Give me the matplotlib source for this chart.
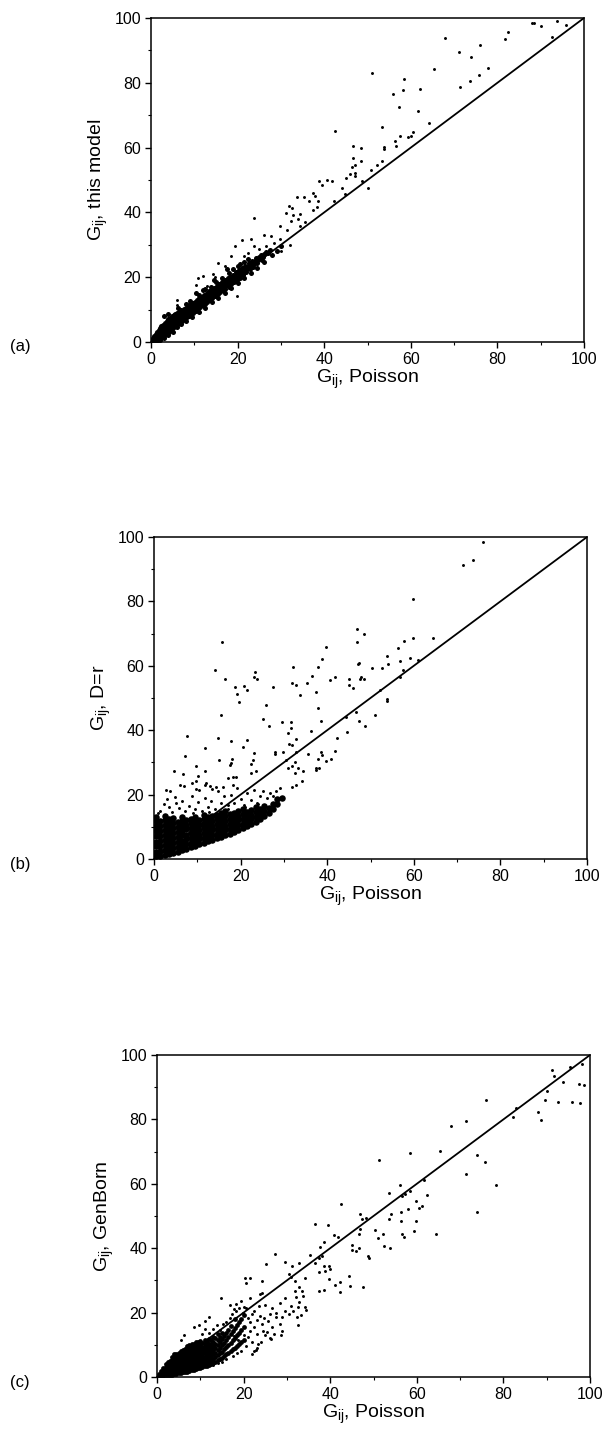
import numpy as np
import matplotlib
matplotlib.use("Agg")
import matplotlib.pyplot as plt

plt.rcParams['font.family'] = ['Liberation Sans', 'DejaVu Sans']
plt.rcParams['mathtext.default'] = 'regular'

# diagonal reference G_ij(model) = G_ij(Poisson)
diag = [0, 100]
ticks = [0, 20, 40, 60, 80, 100]

# ---------------- panel (a): this model vs Poisson ----------------
a_core = np.array([
    (0.3, 0.5), (0.5, 1.2), (0.6, 0.2), (0.8, 2.0), (0.9, 0.8), (1.0, 1.5), (1.1, 0.4), (1.2, 2.6),
    (1.3, 1.0), (1.4, 3.1), (1.5, 1.8), (1.6, 0.7), (1.7, 2.4), (1.8, 3.6), (1.9, 1.3), (2.0, 4.2),
    (2.0, 2.9), (2.1, 0.9), (2.2, 2.0), (2.3, 3.4), (2.4, 4.8), (2.5, 1.6), (2.6, 2.7), (2.7, 3.9),
    (2.8, 5.3), (2.9, 1.9), (3.0, 3.1), (3.1, 4.4), (3.2, 5.9), (3.3, 2.4), (3.4, 3.6), (3.5, 4.9),
    (3.6, 6.4), (3.7, 2.8), (3.8, 4.0), (3.9, 5.4), (4.0, 7.0), (4.1, 3.2), (4.2, 4.5), (4.3, 6.0),
    (4.4, 7.5), (4.5, 3.7), (4.6, 5.0), (4.7, 6.3), (4.8, 8.0), (4.9, 4.1), (5.0, 5.5), (5.1, 6.8),
    (5.2, 8.3), (5.3, 4.6), (5.4, 6.0), (5.5, 7.3), (5.6, 8.6), (5.7, 5.1), (5.8, 6.4), (5.9, 7.7),
    (6.0, 9.0), (6.2, 5.6), (6.3, 6.9), (6.4, 8.2), (6.5, 9.4), (6.7, 6.1), (6.8, 7.3), (6.9, 8.6),
    (7.0, 9.8), (7.2, 6.6), (7.3, 7.8), (7.4, 9.0), (7.6, 10.2), (7.7, 7.1), (7.8, 8.3), (7.9, 9.5),
    (8.1, 10.6), (8.2, 7.6), (8.3, 8.8), (8.4, 10.0), (8.6, 11.1), (8.7, 8.1), (8.8, 9.3), (8.9, 10.4),
    (9.1, 11.6), (9.2, 8.6), (9.3, 9.8), (9.4, 10.9), (9.6, 12.0), (9.7, 9.1), (9.8, 10.3), (10.0, 11.4),
    (10.1, 12.5), (10.3, 9.7), (10.4, 10.8), (10.5, 11.9), (10.7, 13.0), (10.8, 10.2), (10.9, 11.3),
    (11.1, 12.4), (11.2, 13.5), (11.4, 10.7), (11.5, 11.8), (11.6, 12.9), (11.8, 14.0), (11.9, 11.3),
    (12.0, 12.4), (12.2, 13.4), (12.3, 14.5), (12.5, 11.8), (12.6, 12.9), (12.7, 14.0), (12.9, 15.0),
    (13.0, 12.4), (13.2, 13.5), (13.3, 14.5), (13.5, 15.6), (13.6, 13.0), (13.7, 14.0), (13.9, 15.1),
    (14.0, 16.1), (14.2, 13.5), (14.3, 14.6), (14.5, 15.6), (14.6, 16.7), (14.8, 14.1), (14.9, 15.2),
    (15.0, 16.2), (15.2, 17.2), (15.4, 14.7), (15.5, 15.8), (15.6, 16.8), (15.8, 17.8), (16.0, 15.3),
    (16.1, 16.3), (16.3, 17.4), (16.4, 18.4), (16.6, 15.9), (16.7, 16.9), (16.9, 18.0), (17.0, 19.0),
    (17.2, 16.5), (17.4, 17.5), (17.5, 18.5), (17.7, 19.6), (17.9, 17.1), (18.0, 18.1), (18.2, 19.1),
    (18.3, 20.2), (18.5, 17.8), (18.7, 18.8), (18.8, 19.8), (19.0, 20.8), (19.2, 18.5), (19.3, 19.5),
    (19.5, 20.5), (19.7, 21.5), (19.9, 19.2), (20.0, 20.2), (20.2, 21.2), (20.4, 22.2), (20.6, 19.9),
    (20.7, 20.9), (20.9, 21.9), (21.1, 22.9), (21.3, 20.7), (21.5, 21.7), (21.6, 22.7), (21.8, 23.6),
    (22.0, 21.5), (22.2, 22.5), (22.4, 23.4), (22.6, 24.3), (22.8, 22.4), (23.0, 23.3), (23.2, 24.2),
    (23.4, 25.1), (23.6, 23.3), (23.8, 24.2), (24.0, 25.1), (24.3, 26.0), (24.5, 24.3), (24.8, 25.2),
    (25.0, 26.1), (25.3, 26.9), (25.6, 25.4), (25.9, 26.3), (26.2, 27.2), (26.5, 27.9), (27.0, 27.5),
    (27.5, 28.4),
    (3.0, 8.0), (4.0, 8.6), (6.2, 10.5), (8.0, 11.8), (9.0, 12.6), (11.0, 14.6), (12.0, 15.9),
    (13.8, 17.0), (15.0, 18.6), (16.5, 19.8), (18.0, 21.3), (19.0, 22.6), (20.5, 24.0), (21.5, 24.8),
    (22.5, 25.6), (17.5, 22.5), (14.6, 19.0), (10.5, 15.0), (12.5, 16.5), (20.0, 23.4),
    (2.0, 0.5), (3.0, 1.2), (4.0, 2.2), (5.0, 3.2), (6.0, 4.5), (7.0, 5.5), (8.0, 6.6), (9.5, 7.8),
    (11.0, 9.3), (12.5, 10.6), (14.0, 12.2), (15.5, 13.6), (17.0, 15.2), (18.5, 16.6), (20.0, 18.2),
    (21.5, 19.6), (23.0, 21.2), (24.5, 22.8), (26.0, 24.6), (28.0, 26.8), (29.0, 28.0), (30.0, 29.5),
])
a_sparse = np.array([
    (67.8, 93.8), (71.2, 89.5), (73.9, 87.9), (76.0, 91.8), (77.9, 84.5), (75.8, 82.3), (73.6, 80.5),
    (71.3, 78.7), (65.4, 84.4), (51.0, 83.0), (56.0, 76.5), (58.4, 81.2), (58.3, 77.7), (57.3, 72.5),
    (62.1, 78.1), (61.6, 71.3), (64.3, 67.6), (42.5, 65.0), (53.4, 66.5), (82.4, 95.7), (81.7, 93.5),
    (88.1, 98.5), (88.5, 98.4), (90.0, 97.6), (93.7, 99.2), (95.9, 97.9), (92.5, 94.1),
    (60.4, 64.7), (60.1, 63.5), (59.3, 63.3), (57.6, 63.7), (56.3, 61.9), (56.6, 60.4), (53.9, 60.3),
    (53.9, 59.7), (53.4, 56.0), (52.3, 54.7), (50.9, 53.2), (50.1, 47.6), (46.7, 60.4), (48.4, 59.9),
    (46.6, 56.8), (48.4, 55.8), (47.1, 54.5), (46.5, 53.9), (45.9, 52.0), (47.1, 52.2), (47.1, 51.1),
    (48.8, 49.6), (45.0, 50.6), (44.2, 47.5), (44.7, 45.8), (42.3, 43.4), (38.9, 49.6), (40.6, 50.1),
    (41.8, 49.6), (39.5, 48.6), (37.3, 46.0), (37.8, 45.0), (35.3, 44.7), (33.8, 44.8), (36.4, 43.4),
    (38.5, 43.4), (38.3, 41.7), (37.5, 40.8), (31.9, 41.9), (32.6, 41.4), (31.2, 39.8), (32.9, 39.3),
    (34.4, 39.6), (33.9, 38.0), (32.3, 37.2), (29.7, 35.7), (31.3, 34.7), (27.8, 32.6), (26.0, 32.9),
    (23.9, 38.3), (21.1, 31.4), (23.1, 31.8), (19.5, 29.7), (23.9, 29.5), (29.7, 31.8), (32.0, 30.0),
    (30.0, 28.0), (18.5, 26.4), (21.5, 26.6), (15.5, 24.4), (17.0, 23.4), (14.3, 21.1), (14.7, 20.1),
    (11.9, 20.5), (10.9, 19.8), (10.4, 17.7), (12.9, 17.4), (19.8, 14.1), (6.1, 13.1), (6.1, 11.5),
    (34.5, 35.8), (35.5, 37.0), (28.5, 30.5), (26.5, 29.5), (25.0, 28.8), (22.5, 27.5),
])

# ---------------- panel (b): D=r vs Poisson ----------------
b_core_cols = {
    0.5: [0.8, 2.3, 3.9, 5.4, 7.0, 8.6, 10.1, 11.7, 13.0],
    1.5: [1.0, 2.6, 4.1, 5.7, 7.2, 8.8, 10.4, 11.9],
    2.5: [1.3, 2.9, 4.4, 6.0, 7.5, 9.1, 10.6, 12.2, 13.5],
    3.5: [1.6, 3.1, 4.7, 6.2, 7.8, 9.3, 10.9, 12.4],
    4.5: [2.0, 3.5, 5.0, 6.6, 8.1, 9.7, 11.2, 12.6],
    5.5: [2.3, 3.8, 5.4, 6.9, 8.5, 10.0, 11.5],
    6.5: [2.7, 4.2, 5.7, 7.3, 8.8, 10.3, 11.8, 13.1],
    7.5: [3.1, 4.6, 6.1, 7.6, 9.2, 10.7, 12.1],
    8.5: [3.6, 5.1, 6.6, 8.1, 9.6, 11.1, 12.5],
    9.5: [4.1, 5.6, 7.1, 8.6, 10.1, 11.6, 13.0],
    10.5: [4.6, 6.1, 7.6, 9.1, 10.6, 12.1],
    11.5: [5.0, 6.5, 8.0, 9.5, 11.0, 12.5, 13.6],
    12.5: [5.5, 7.0, 8.5, 10.0, 11.5, 13.0],
    13.5: [5.9, 7.4, 8.9, 10.4, 11.9, 13.3],
    14.5: [6.4, 7.9, 9.4, 10.9, 12.4, 13.8],
    15.5: [6.9, 8.4, 9.9, 11.4, 12.9, 14.2],
    16.5: [7.4, 8.9, 10.4, 11.9, 13.4, 14.8],
    17.5: [7.9, 9.4, 10.9, 12.4, 13.9],
    18.5: [8.4, 9.9, 11.4, 12.9, 14.4],
    19.5: [9.0, 10.5, 12.0, 13.5, 15.0],
    20.5: [9.5, 11.0, 12.5, 14.0, 15.4],
    21.5: [10.2, 11.7, 13.2, 14.7],
    22.5: [10.8, 12.3, 13.8, 15.3],
    23.5: [11.6, 13.1, 14.6, 16.0],
    24.5: [12.4, 13.9, 15.4],
    25.5: [13.4, 14.9, 16.4],
    26.5: [14.4, 15.9],
    27.5: [15.6, 17.0],
    28.5: [17.0, 18.5],
    29.5: [19.0],
}
b_fringe = np.array([
    (1.5, 15.0), (2.2, 17.0), (3.0, 18.5), (3.5, 16.0), (4.2, 14.5), (5.0, 17.5), (5.8, 15.8),
    (6.5, 18.0), (7.2, 14.8), (8.0, 16.5), (8.8, 19.5), (9.5, 15.5), (10.2, 17.8), (11.0, 15.0),
    (11.8, 19.0), (12.5, 16.2), (13.2, 18.0), (14.0, 15.5), (14.8, 21.0), (15.5, 17.5), (16.2, 19.5),
    (17.0, 16.8), (17.8, 20.0), (18.5, 17.5), (19.2, 22.0), (20.0, 18.5), (20.8, 16.8), (21.5, 20.5),
    (22.3, 18.2), (23.0, 21.5), (23.8, 17.5), (24.5, 19.5), (25.2, 21.0), (26.0, 18.8), (26.8, 20.5),
    (27.5, 19.5), (28.2, 21.2), (29.0, 22.0), (3.8, 21.0), (7.0, 22.8), (10.5, 21.5), (12.0, 23.5),
    (13.5, 21.8), (16.0, 22.5), (18.2, 23.0), (2.5, 12.5), (1.0, 14.2), (4.8, 19.2), (9.0, 14.2),
    (12.8, 14.6), (17.2, 15.6), (21.0, 16.2), (24.0, 17.2),
])
b_sparse = np.array([
    (76.0, 98.5), (73.7, 93.0), (71.4, 91.3), (59.7, 80.9), (59.7, 68.7), (64.5, 68.5), (61.0, 61.8),
    (59.2, 62.5), (57.8, 67.8), (56.4, 65.4), (56.8, 61.6), (57.4, 58.7), (56.8, 56.4), (53.9, 63.0),
    (54.1, 60.7), (52.6, 59.2), (50.4, 59.4), (52.2, 52.5), (53.7, 49.6), (53.9, 49.2), (51.1, 44.7),
    (46.8, 71.3), (46.8, 67.3), (48.5, 69.8), (47.0, 60.7), (47.4, 60.9), (47.9, 56.6), (48.5, 55.8),
    (47.5, 55.9), (45.1, 55.9), (45.1, 54.0), (46.0, 53.0), (46.6, 45.7), (47.4, 43.0), (48.8, 41.4),
    (44.4, 44.0), (44.5, 39.4), (42.2, 37.7), (41.8, 33.4), (40.8, 31.1), (39.8, 30.3), (41.9, 56.4),
    (40.6, 55.6), (39.7, 65.7), (38.8, 62.0), (37.8, 59.7), (36.5, 56.9), (35.4, 54.8), (32.0, 59.7),
    (31.9, 54.8), (32.7, 54.0), (33.8, 50.9), (37.5, 51.8), (37.9, 46.8), (38.5, 43.0), (36.2, 39.6),
    (35.6, 32.6), (38.5, 33.1), (38.7, 32.3), (37.8, 31.0), (37.4, 28.2), (38.2, 28.4), (37.5, 27.5),
    (31.6, 42.4), (31.6, 40.6), (31.0, 39.0), (32.9, 37.4), (31.2, 35.7), (31.8, 35.3), (29.6, 42.7),
    (29.7, 33.1), (30.6, 30.8), (32.9, 33.1), (32.5, 30.0), (31.8, 28.9), (31.0, 28.4), (33.3, 28.4),
    (32.5, 26.7), (34.3, 27.2), (34.1, 24.1), (32.9, 23.0), (31.8, 22.5), (27.4, 53.3), (25.8, 47.8),
    (26.5, 41.3), (25.1, 43.4), (27.9, 33.1), (28.0, 32.6), (23.3, 58.2), (23.8, 55.8), (23.1, 56.4),
    (20.8, 53.7), (21.5, 52.5), (18.6, 53.5), (19.1, 51.2), (19.6, 48.7), (14.2, 58.7), (15.8, 67.5),
    (16.5, 55.8), (15.5, 44.7), (14.8, 37.7), (17.7, 36.7), (21.4, 37.0), (20.6, 34.7), (11.8, 34.4),
    (7.7, 38.3), (7.2, 32.0), (9.6, 28.9), (4.6, 27.2), (6.8, 26.4), (2.8, 21.3), (18.1, 31.1),
    (17.5, 29.2), (17.7, 29.8), (23.2, 32.9), (22.9, 30.8), (22.3, 29.5), (23.5, 27.2), (22.3, 26.7),
    (18.9, 25.4), (18.3, 25.4), (17.0, 25.1), (15.1, 30.8), (11.8, 27.2), (10.2, 25.8), (11.8, 23.0),
    (9.8, 24.1), (8.8, 23.6), (6.0, 23.0), (9.8, 21.7), (12.9, 22.7), (14.4, 22.5),
])
b_core = np.array([(x, y) for x, ys in b_core_cols.items() for y in ys])

# ---------------- panel (c): GenBorn vs Poisson ----------------
c_core_cols = {
    0.5: [0.3, 0.9],
    1.0: [0.3, 1.0, 1.8],
    1.5: [0.4, 1.2, 2.0, 2.8],
    2.0: [0.5, 1.4, 2.3, 3.2, 4.0],
    2.5: [0.5, 1.4, 2.3, 3.2, 4.1, 4.8],
    3.0: [0.6, 1.5, 2.4, 3.3, 4.2, 5.1],
    3.5: [0.7, 1.6, 2.5, 3.4, 4.3, 5.2, 6.1],
    4.0: [0.8, 1.7, 2.6, 3.5, 4.4, 5.3, 6.2, 7.0],
    4.5: [1.0, 1.9, 2.8, 3.7, 4.6, 5.5, 6.4, 7.1],
    5.0: [1.1, 2.0, 2.9, 3.8, 4.7, 5.6, 6.5, 7.4],
    5.5: [1.2, 2.1, 3.0, 3.9, 4.8, 5.7, 6.6, 7.5, 8.2],
    6.0: [1.4, 2.3, 3.2, 4.1, 5.0, 5.9, 6.8, 7.7, 8.5],
    6.5: [1.6, 2.5, 3.4, 4.3, 5.2, 6.1, 7.0, 7.9, 8.8],
    7.0: [1.7, 2.6, 3.5, 4.4, 5.3, 6.2, 7.1, 8.0, 8.9, 9.6],
    7.5: [1.9, 2.8, 3.7, 4.6, 5.5, 6.4, 7.3, 8.2, 9.1, 10.0],
    8.0: [2.1, 3.0, 3.9, 4.8, 5.7, 6.6, 7.5, 8.4, 9.3, 10.3],
    8.5: [2.3, 3.2, 4.1, 5.0, 5.9, 6.8, 7.7, 8.6, 9.5, 10.4],
    9.0: [2.5, 3.4, 4.3, 5.2, 6.1, 7.0, 7.9, 8.8, 9.7, 10.8],
    9.5: [2.7, 3.6, 4.5, 5.4, 6.3, 7.2, 8.1, 9.0, 9.9, 11.0],
    10.0: [2.9, 3.8, 4.7, 5.6, 6.5, 7.4, 8.3, 9.2, 10.1, 11.3],
    10.5: [3.1, 4.0, 4.9, 5.8, 6.7, 7.6, 8.5, 9.4, 10.5],
    11.0: [3.3, 4.3, 5.3, 6.3, 7.3, 8.3, 9.3, 10.3, 11.5],
    11.5: [3.5, 4.6, 5.6, 6.6, 7.6, 8.6, 9.6, 10.8],
    12.0: [3.8, 4.9, 6.0, 7.1, 8.2, 9.3, 10.4, 11.8],
    12.5: [4.1, 5.3, 6.5, 7.7, 8.9, 10.1, 11.5],
    13.0: [4.4, 5.7, 7.0, 8.3, 9.6, 11.0, 12.5],
    13.5: [4.8, 6.2, 7.6, 9.0, 10.4, 12.0],
    14.0: [5.2, 6.8, 8.4, 10.0, 11.6, 13.2],
    14.5: [5.6, 7.3, 9.1, 10.8, 12.5],
    15.0: [6.0, 7.9, 9.8, 11.7, 13.6],
    15.5: [6.5, 8.6, 10.6, 12.6],
    16.0: [7.0, 9.2, 11.4, 13.8],
    16.5: [7.6, 10.0, 12.3, 14.6],
    17.0: [8.0, 10.7, 13.3, 15.8],
    17.5: [8.6, 11.4, 14.2],
    18.0: [9.0, 12.2, 15.3, 17.9],
    18.5: [9.6, 13.0, 16.2],
    19.0: [10.2, 13.8, 17.2],
    19.5: [11.0, 14.6, 18.0],
    20.0: [11.5, 15.5, 19.2],
}
c_fringe = np.array([
    (10.5, 13.2), (11.2, 14.8), (12.0, 13.6), (13.0, 15.0), (13.8, 16.2), (14.5, 14.5), (15.2, 16.5),
    (16.0, 17.0), (16.8, 18.2), (17.3, 19.5), (18.3, 20.5), (19.0, 21.3), (19.8, 20.0), (20.5, 21.5),
    (21.0, 18.3), (21.5, 17.0), (22.0, 19.5), (22.5, 15.5), (23.0, 13.5), (23.2, 17.8), (23.8, 19.0),
    (24.2, 16.5), (24.8, 18.2), (25.5, 14.0), (26.0, 12.0), (27.0, 13.5), (20.5, 9.5), (21.0, 12.5),
    (22.0, 11.0), (23.0, 9.0), (17.5, 6.5), (18.5, 7.5), (19.5, 8.0), (16.0, 5.5), (15.0, 4.8),
    (14.0, 4.2), (13.0, 3.8), (22.5, 20.5), (23.5, 22.0), (25.0, 22.5), (26.5, 21.5), (27.5, 20.0),
    (28.5, 23.0), (29.5, 24.5), (21.5, 14.2), (20.0, 13.0), (18.8, 11.5), (17.8, 12.8), (22.8, 8.5),
])
c_sparse = np.array([
    (76.0, 86.0), (71.4, 79.6), (67.9, 78.0), (65.4, 70.1), (58.5, 69.6), (51.2, 67.3), (73.8, 68.9),
    (75.8, 66.8), (71.4, 63.1), (78.2, 59.5), (73.8, 51.2), (61.6, 61.3), (56.2, 59.6), (53.5, 57.1),
    (56.6, 56.2), (57.2, 56.7), (58.5, 57.7), (62.3, 56.4), (59.8, 54.6), (61.1, 53.1), (60.6, 52.5),
    (57.9, 52.1), (54.1, 50.5), (53.5, 49.2), (56.4, 51.3), (59.8, 48.5), (56.4, 48.5), (48.3, 49.3),
    (47.4, 49.0), (46.8, 50.5), (46.8, 45.9), (46.6, 44.3), (50.3, 45.8), (51.0, 43.3), (52.2, 44.3),
    (56.5, 44.3), (57.1, 43.5), (59.3, 45.2), (64.5, 44.5), (52.5, 40.7), (53.9, 40.2), (42.5, 53.6),
    (39.6, 47.2), (36.5, 47.6), (40.8, 44.1), (41.9, 43.5), (45.0, 41.0), (45.0, 39.4), (46.0, 39.2),
    (46.6, 40.0), (48.8, 37.6), (48.9, 37.1), (37.7, 40.4), (38.5, 41.8), (38.0, 37.6), (37.5, 37.1),
    (35.4, 37.9), (25.1, 35.1), (27.3, 38.1), (29.6, 35.6), (32.7, 35.3), (31.2, 34.5), (36.4, 35.3),
    (38.5, 34.5), (39.7, 34.5), (38.8, 33.0), (37.3, 32.5), (40.0, 33.5), (39.7, 30.4), (44.3, 31.4),
    (42.3, 29.4), (41.0, 28.7), (44.5, 28.4), (42.2, 26.3), (47.5, 27.8), (37.5, 26.8), (38.5, 27.0),
    (20.4, 30.7), (21.5, 30.9), (24.3, 29.7), (20.6, 29.1), (30.5, 32.0), (31.0, 31.1), (31.8, 29.9),
    (34.1, 30.9), (32.8, 27.8), (33.5, 26.8), (31.8, 26.8), (33.7, 25.3), (32.2, 24.7), (32.9, 23.2),
    (34.1, 21.6), (34.5, 20.8), (32.5, 21.6), (31.0, 22.2), (31.4, 20.6), (30.5, 19.6), (29.5, 20.6),
    (28.9, 18.6), (32.4, 18.6), (33.3, 19.1), (32.5, 16.0), (28.3, 16.5), (28.8, 14.4), (28.7, 12.9),
    (26.2, 19.6), (27.5, 18.6), (25.6, 17.5), (26.6, 15.5), (24.5, 14.4), (25.0, 12.9), (26.4, 11.9),
    (24.1, 10.8), (23.3, 10.3), (22.5, 8.2), (21.9, 7.2), (23.7, 25.8), (24.3, 26.0), (21.5, 24.5),
    (19.5, 23.7), (18.3, 22.7), (16.8, 22.5), (20.2, 21.6), (17.7, 21.1), (14.8, 24.5), (12.0, 18.6),
    (11.0, 17.3), (9.8, 16.0), (8.5, 15.5), (6.2, 12.9), (5.6, 11.5),
    (91.3, 95.2), (91.6, 93.6), (95.3, 96.4), (98.1, 97.2), (93.7, 91.7), (90.0, 88.8), (97.4, 90.9),
    (98.7, 90.7), (89.6, 85.9), (92.5, 85.3), (95.8, 85.5), (97.8, 85.2), (83.0, 83.4), (82.3, 80.8),
    (88.1, 82.4), (88.7, 79.8),
])
c_core = np.array([(x, y) for x, ys in c_core_cols.items() for y in ys])

# (tag, y label, dense cloud, marker size of cloud, sparse sets, axes pixel box)
panels = [
    ("(a)", "G$_{ij}$, this model", a_core, 13, [a_sparse], 151, 584, 18, 342),
    ("(b)", "G$_{ij}$, D=r", b_core, 22, [b_fringe, b_sparse], 154, 587, 537, 859),
    ("(c)", "G$_{ij}$, GenBorn", c_core, 12, [c_fringe, c_sparse], 157, 590, 1055, 1377),
]

W, H = 605, 1431
fig = plt.figure(figsize=(W / 100, H / 100), dpi=100)

for tag, ylab, core, core_s, sparse, x0, x1, y0, y1 in panels:
    ax = fig.add_axes([x0 / W, 1 - y1 / H, (x1 - x0) / W, (y1 - y0) / H])
    ax.scatter(core[:, 0], core[:, 1], s=core_s, c='black', linewidths=0)
    for pts in sparse:
        ax.scatter(pts[:, 0], pts[:, 1], s=4.5, c='black', linewidths=0, clip_on=False)
    ax.plot(diag, diag, color='black', lw=1.3)
    ax.set_xlim(0, 100)
    ax.set_ylim(0, 100)
    ax.set_xticks(ticks)
    ax.set_yticks(ticks)
    ax.set_xticks(range(10, 100, 20), minor=True)
    ax.set_yticks(range(10, 100, 20), minor=True)
    ax.tick_params(which='major', direction='out', length=4, width=1, labelsize=11.5, pad=3)
    ax.tick_params(which='minor', direction='out', length=2.5, width=0.8)
    for sp in ax.spines.values():
        sp.set_linewidth(1.1)
    ax.set_xlabel("G$_{ij}$, Poisson", fontsize=14, labelpad=1)
    ax.set_ylabel(ylab, fontsize=14, labelpad=3)
    fig.text(20 / W, 1 - (y1 + 5) / H, tag, fontsize=12, ha='center', va='center')

fig.savefig("out.png", dpi=100)
